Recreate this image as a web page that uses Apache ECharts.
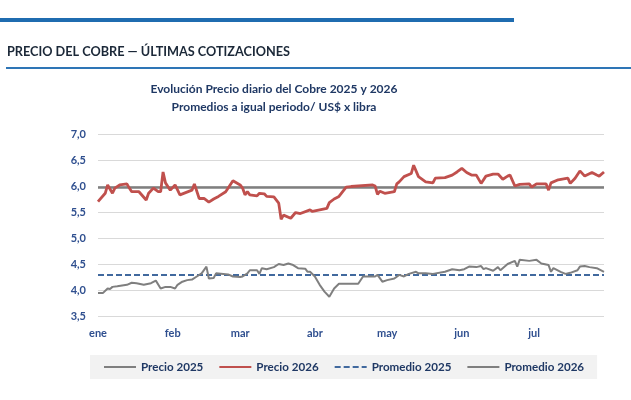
<!DOCTYPE html>
<html>
<head>
<meta charset="utf-8">
<script src="https://cdn.jsdelivr.net/npm/echarts@6/dist/echarts.min.js"></script>
<style>
html,body{margin:0;padding:0;background:#fff;}
#c{width:631px;height:400px;}
</style>
</head>
<body>
<div id="c"></div>
<script>
// Month tick labels and the day-of-year where each month starts
const meses = ['ene', 'feb', 'mar', 'abr', 'may', 'jun', 'jul'];
const inicioMes = [0, 31, 59, 90, 120, 151, 181];

// Precio 2026 (US$/lb), day of year -> value
const dias2026 = [0,3,4,6,7,9,12,13,14,17,20,21,23,25,26,27,28,30,32,34,39,40,42,44,46,48,50,53,56,59,60,61,62,63,66,67,69,70,73,75,76,77,80,82,84,88,89,93,95,96,98,100,103,105,114,115,116,117,119,123,124,125,127,130,131,133,136,139,140,144,147,149,151,153,155,157,159,161,164,166,168,170,171,173,175,179,180,182,186,187,188,191,195,196,198,200,202,205,207,208,210];
const precio2026 = [5.70,5.86,6.02,5.86,5.96,6.02,6.04,5.96,5.89,5.89,5.73,5.86,5.96,5.89,5.89,6.27,6.06,5.92,6.02,5.83,5.92,6.04,5.76,5.76,5.69,5.75,5.80,5.89,6.10,6.02,5.96,5.83,5.89,5.83,5.81,5.86,5.85,5.80,5.79,5.67,5.36,5.44,5.38,5.49,5.47,5.54,5.51,5.55,5.57,5.68,5.75,5.80,5.98,5.99,6.02,6.00,5.84,5.90,5.86,5.89,6.04,6.08,6.18,6.24,6.40,6.18,6.08,6.06,6.15,6.16,6.21,6.27,6.34,6.26,6.21,6.21,6.05,6.19,6.23,6.23,6.13,6.19,6.21,6.00,6.03,6.04,5.98,6.04,6.04,5.92,6.06,6.12,6.15,6.05,6.15,6.29,6.19,6.26,6.21,6.19,6.27];

// Precio 2025 (US$/lb), day of year -> value
const dias2025 = [0,2,4,5,6,8,12,14,16,19,22,24,26,28,30,32,33,35,37,39,41,43,45,46,48,49,52,54,56,59,60,62,63,66,67,68,70,73,75,77,79,81,83,86,87,88,90,92,94,96,98,100,102,105,108,110,113,115,116,118,120,123,125,127,129,132,133,136,139,144,147,150,152,154,157,159,160,161,164,166,167,170,173,174,175,179,182,184,187,188,189,192,194,196,199,200,202,204,207,210];
const precio2025 = [3.94,3.94,4.03,4.02,4.06,4.07,4.10,4.14,4.13,4.10,4.13,4.18,4.03,4.06,4.06,4.03,4.10,4.16,4.19,4.20,4.26,4.32,4.45,4.22,4.23,4.32,4.31,4.30,4.26,4.25,4.26,4.32,4.38,4.38,4.31,4.42,4.40,4.44,4.50,4.48,4.51,4.48,4.42,4.41,4.35,4.35,4.26,4.10,3.97,3.87,4.03,4.12,4.12,4.12,4.12,4.26,4.26,4.26,4.29,4.16,4.19,4.22,4.29,4.26,4.31,4.35,4.32,4.32,4.31,4.35,4.40,4.38,4.40,4.45,4.44,4.46,4.40,4.42,4.37,4.44,4.38,4.50,4.56,4.45,4.58,4.56,4.58,4.51,4.48,4.35,4.42,4.35,4.31,4.33,4.38,4.45,4.46,4.44,4.42,4.35];

// Period averages
const promedio2025 = 4.29;
const promedio2026 = 5.97;
const diaFinal = 210;

const navy = '#1F3864';
const labelBlue = '#2F4F8F';
const font = 'Lato';

const chart = echarts.init(document.getElementById('c'), null, {renderer: 'canvas'});

const pares = (d, v) => d.map((x, i) => [x, v[i]]);
const constante = v => [[0, v], [diaFinal, v]];

chart.setOption({
  animation: false,
  textStyle: {fontFamily: font},
  grid: {left: 98, right: 27, top: 134, bottom: 84, containLabel: false},
  graphic: [
    {type: 'rect', shape: {x: 0, y: 18, width: 514, height: 4}, style: {fill: '#1F6CB0'}},
    {type: 'rect', shape: {x: 6, y: 67, width: 625, height: 2}, style: {fill: '#2E75B6'}},
    {type: 'text', style: {x: 7, y: 52, text: 'PRECIO DEL COBRE — ÚLTIMAS COTIZACIONES', font: 'bold 12.7px Lato', fill: '#1B2838', verticalAlign: 'middle'}},
    {type: 'text', style: {x: 274, y: 89, text: 'Evolución Precio diario del Cobre 2025 y 2026', font: 'bold 12px Lato', fill: navy, align: 'center', verticalAlign: 'middle'}},
    {type: 'text', style: {x: 274, y: 107, text: 'Promedios a igual periodo/ US$ x libra', font: 'bold 12px Lato', fill: navy, align: 'center', verticalAlign: 'middle'}}
  ],
  legend: {
    left: 90, top: 355,
    padding: [6, 13, 6, 13],
    backgroundColor: '#F2F2F2',
    itemWidth: 32, itemHeight: 10, itemGap: 15,
    itemStyle: {opacity: 0},
    textStyle: {color: navy, fontWeight: 'bold', fontSize: 11.6, fontFamily: font},
    data: ['Precio 2025', 'Precio 2026', 'Promedio 2025', 'Promedio 2026']
  },
  xAxis: {
    type: 'value', min: 0, max: diaFinal,
    axisLine: {show: false}, axisTick: {show: false}, splitLine: {show: false},
    axisLabel: {
      customValues: inicioMes,
      formatter: v => meses[inicioMes.indexOf(v)] || '',
      color: labelBlue, fontWeight: 'bold', fontSize: 11, margin: 12, fontFamily: font
    }
  },
  yAxis: {
    type: 'value', min: 3.5, max: 7, interval: 0.5,
    axisLine: {show: false}, axisTick: {show: false},
    splitLine: {lineStyle: {color: '#D9D9D9', width: 1}},
    axisLabel: {
      formatter: v => v.toFixed(1).replace('.', ','),
      color: labelBlue, fontWeight: 'bold', fontSize: 11, margin: 12, fontFamily: font
    }
  },
  series: [
    {name: 'Precio 2025', type: 'line', data: pares(dias2025, precio2025), symbol: 'none', z: 3,
     lineStyle: {color: '#7F7F7F', width: 2}, itemStyle: {color: '#7F7F7F'}},
    {name: 'Precio 2026', type: 'line', data: pares(dias2026, precio2026), symbol: 'none', z: 4,
     lineStyle: {color: '#C0504D', width: 2.8}, itemStyle: {color: '#C0504D'}},
    {name: 'Promedio 2025', type: 'line', data: constante(promedio2025), symbol: 'none', z: 2,
     lineStyle: {color: '#41699E', width: 2, type: [6, 3]}, itemStyle: {color: '#41699E'}},
    {name: 'Promedio 2026', type: 'line', data: constante(promedio2026), symbol: 'none', z: 2,
     lineStyle: {color: '#7F7F7F', width: 2.5}, itemStyle: {color: '#7F7F7F'}}
  ]
});
</script>
</body>
</html>
